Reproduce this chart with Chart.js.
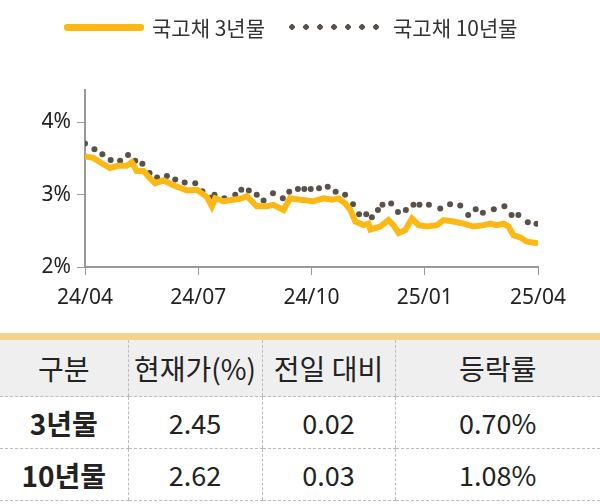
<!DOCTYPE html>
<html><head><meta charset="utf-8">
<script src="https://cdn.jsdelivr.net/npm/chart.js@4"></script>
<style>
body{margin:0;width:600px;height:504px;background:#fff;font-family:"Noto Sans CJK KR","Noto Sans",sans-serif;overflow:hidden;position:relative}
#wrap{position:absolute;left:0;top:0;width:600px;height:330px}
.leg{position:absolute;top:12px;font-size:21px;color:#333;display:flex;align-items:center}
table{position:absolute;left:0;top:333px;width:600px;border-collapse:collapse;border-top:7px solid #f6d38c;table-layout:fixed}
td{text-align:center;font-size:27px;color:#222;border-left:1px dashed #bbb;border-bottom:1px dashed #bbb;padding:0;height:51px}
td:first-child{border-left:none;font-weight:bold;font-size:28px}
tr.h td{background:#efefef;height:56px;font-weight:normal;font-size:28px}
</style></head><body>
<div id="wrap"><canvas id="c"></canvas></div>
<div class="leg" style="left:64px"><span style="display:inline-block;width:80px;height:7px;background:#fdb813;border-radius:3px;margin-right:8px"></span>국고채 3년물</div>
<div class="leg" style="left:285px"><span style="display:inline-block;width:100px;height:6px;margin-right:8px;background:radial-gradient(circle,#5a524a 2.6px,transparent 3px);background-size:14px 6px"></span>국고채 10년물</div>
<table>
<colgroup><col style="width:128px"><col style="width:134px"><col style="width:133px"><col></colgroup>
<tbody id="tb"></tbody></table>
<script>
const xTickLabels={0:'24/04',3:'24/07',6:'24/10',9:'25/01',12:'25/04'};
const t3x=[0,0.22,0.40,0.66,0.88,1.10,1.24,1.37,1.55,1.72,1.86,2.08,2.34,2.70,2.96,3.23,3.36,3.45,3.67,3.93,4.15,4.29,4.55,4.82,4.99,5.26,5.43,5.70,6.05,6.32,6.54,6.72,6.89,7.03,7.16,7.38,7.51,7.56,7.82,8.04,8.17,8.31,8.48,8.66,8.84,9.06,9.32,9.50,9.76,10.03,10.29,10.56,10.74,10.91,11.09,11.22,11.35,11.53,11.71,12.00];
const t3y=[3.53,3.51,3.45,3.37,3.40,3.40,3.45,3.33,3.33,3.23,3.16,3.20,3.13,3.06,3.07,2.97,2.84,2.95,2.91,2.93,2.95,2.98,2.84,2.84,2.86,2.79,2.95,2.93,2.91,2.95,2.93,2.95,2.88,2.79,2.63,2.58,2.60,2.52,2.56,2.65,2.58,2.47,2.51,2.67,2.58,2.56,2.58,2.65,2.63,2.60,2.56,2.58,2.60,2.58,2.60,2.56,2.44,2.41,2.35,2.33];
const t10x=[0,0.25,0.46,0.68,0.93,1.14,1.33,1.52,1.71,1.91,2.17,2.39,2.64,2.92,3.11,3.31,3.43,3.69,3.98,4.14,4.34,4.55,4.73,4.98,5.24,5.41,5.64,5.81,5.98,6.20,6.43,6.64,6.89,7.10,7.26,7.45,7.60,7.76,7.88,8.11,8.29,8.50,8.70,8.86,9.11,9.41,9.67,9.94,10.15,10.35,10.54,10.83,11.11,11.30,11.48,11.73,11.96];
const t10y=[3.71,3.63,3.56,3.48,3.47,3.55,3.47,3.43,3.30,3.24,3.26,3.21,3.17,3.16,3.05,2.96,3.00,2.95,3.00,3.07,3.06,3.00,2.92,3.02,2.95,3.04,3.08,3.08,3.08,3.09,3.11,3.04,3.00,2.87,2.73,2.73,2.69,2.79,2.86,2.88,2.76,2.79,2.86,2.86,2.86,2.81,2.87,2.85,2.72,2.80,2.75,2.80,2.84,2.72,2.72,2.62,2.60];
const tableHead=['구분','현재가(%)','전일 대비','등락률'];
const tableRows=[['3년물','2.45','0.02','0.70%'],['10년물','2.62','0.03','1.08%']];
const tb=document.getElementById('tb');
[tableHead,...tableRows].forEach((r,i)=>{const tr=document.createElement('tr');if(i==0)tr.className='h';r.forEach(v=>{const td=document.createElement('td');td.textContent=v;tr.appendChild(td);});tb.appendChild(tr);});
new Chart(document.getElementById('c'),{type:'scatter',
data:{datasets:[
{data:t3x.map((x,i)=>({x,y:t3y[i]})),showLine:true,borderColor:'#fdb813',borderWidth:6,pointRadius:0,tension:0},
{data:t10x.map((x,i)=>({x,y:t10y[i]})),showLine:false,backgroundColor:'#5a524a',borderWidth:0,pointRadius:3}]},
options:{animation:false,responsive:true,maintainAspectRatio:false,
layout:{padding:{top:90,right:62,left:0,bottom:0}},
plugins:{legend:{display:false},tooltip:{enabled:false}},
scales:{
x:{type:'linear',min:0,max:12,afterBuildTicks:s=>{s.ticks=[0,3,6,9,12].map(v=>({value:v}));},afterFit:s=>{s.height=63;},
grid:{drawOnChartArea:false,color:'#999',tickLength:8},border:{color:'#999',width:2},
ticks:{callback:v=>xTickLabels[v]||'',color:'#222',font:{size:21,family:'Noto Sans'},maxRotation:0,padding:10}},
y:{min:2,max:4.45,afterBuildTicks:s=>{s.ticks=[2,3,4].map(v=>({value:v}));},afterFit:s=>{s.width=85;},
grid:{drawOnChartArea:false,color:'#999',tickLength:8},border:{color:'#999',width:2},
ticks:{callback:v=>v+'%',color:'#222',font:{size:21,family:'Noto Sans'},padding:6}}}}});
</script></body></html>
